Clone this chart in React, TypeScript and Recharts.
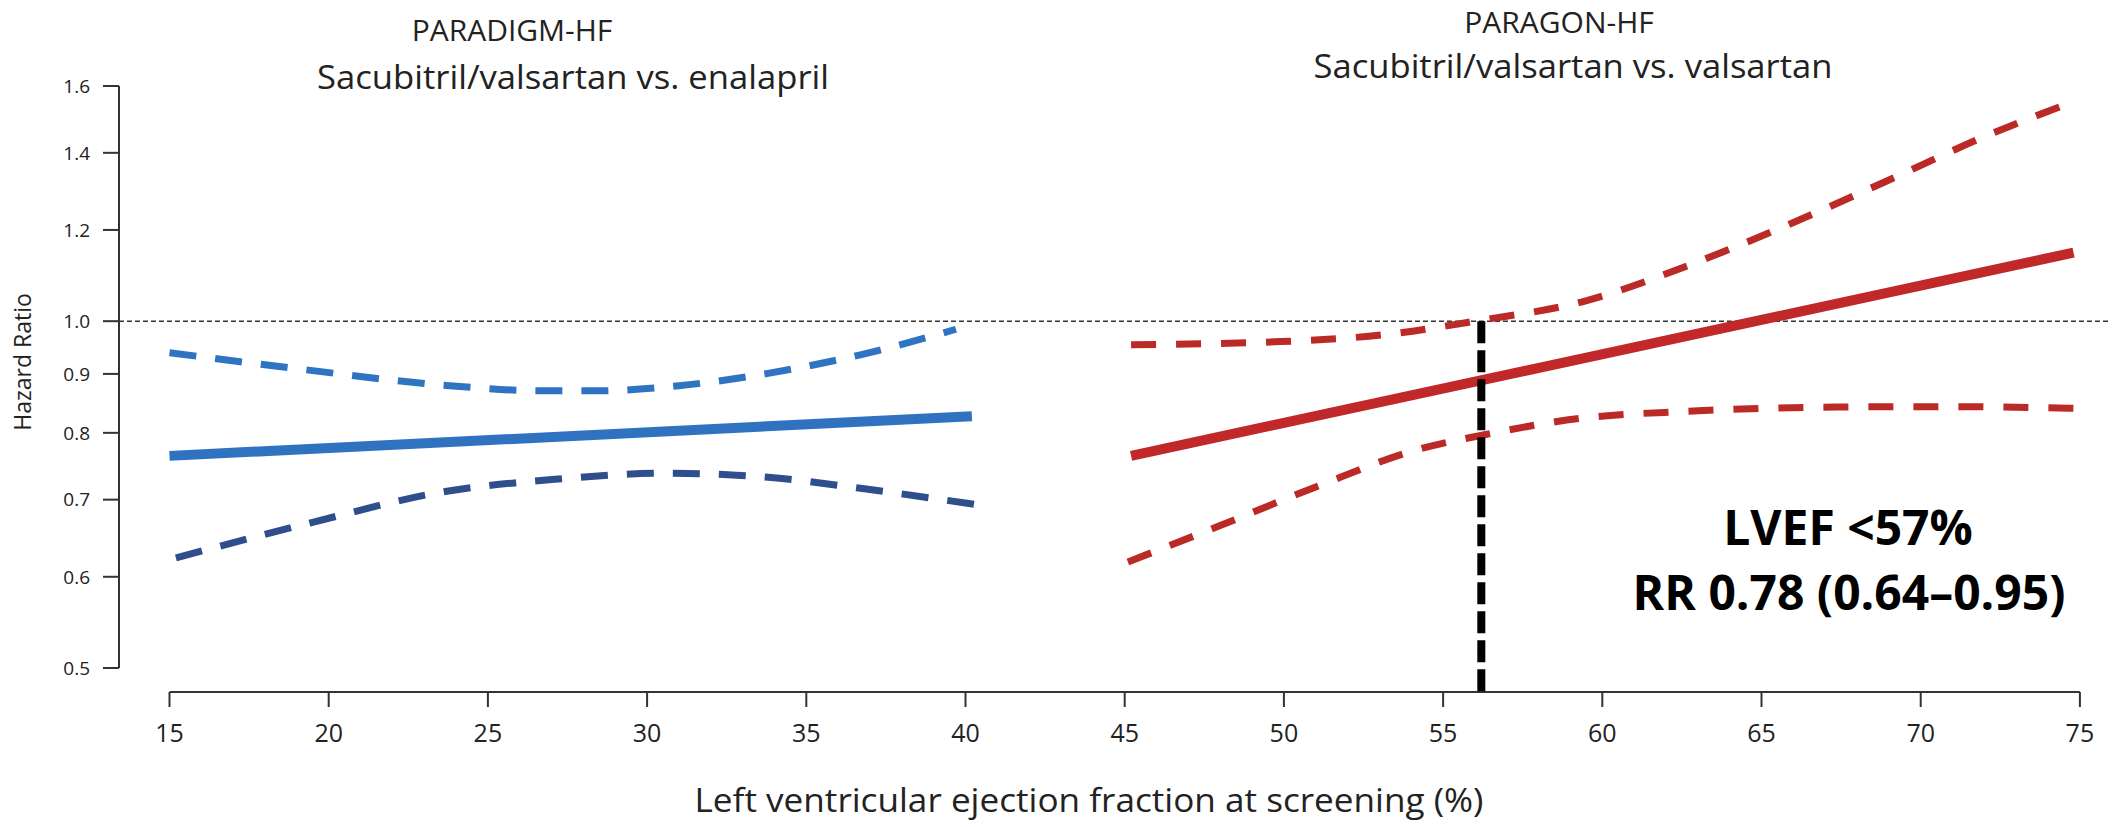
import { LineChart, Line, XAxis, YAxis, ReferenceLine } from 'recharts';

const efTicks = [15, 20, 25, 30, 35, 40, 45, 50, 55, 60, 65, 70, 75];
const hrTicks = [0.5, 0.6, 0.7, 0.8, 0.9, 1.0, 1.2, 1.4, 1.6];

// PARADIGM-HF (blue)
const paradigmEf = [15, 40.2];
const paradigmHr = [0.764, 0.827];
const paradigmUpperEf = [15, 19.2, 23.6, 26.8, 28.4, 31.0, 33.8, 36.7, 39.7];
const paradigmUpperHr = [0.939, 0.908, 0.88, 0.87, 0.87, 0.879, 0.901, 0.935, 0.984];
const paradigmLowerEf = [15.2, 19.4, 23.6, 27.1, 30.6, 33.8, 36.7, 40.8];
const paradigmLowerHr = [0.623, 0.668, 0.711, 0.729, 0.738, 0.732, 0.716, 0.69];

// PARAGON-HF (red)
const paragonEf = [45.2, 74.8];
const paragonHr = [0.764, 1.147];
const paragonUpperEf = [45.2, 49.9, 53.1, 56.1, 59.4, 62.6, 65.7, 68.9, 72.0, 74.8];
const paragonUpperHr = [0.954, 0.96, 0.973, 1.001, 1.04, 1.115, 1.208, 1.322, 1.446, 1.551];
const paragonLowerEf = [45.1, 47.9, 51.0, 54.15, 56.3, 59.4, 62.6, 66.8, 70.9, 74.9];
const paragonLowerHr = [0.618, 0.663, 0.718, 0.773, 0.797, 0.824, 0.835, 0.842, 0.843, 0.84];

const thresholdEf = 56.2;

const xMin = 13.414;
const xMax = 75.945;
const yMin = 0.4766;
const yMax = 1.6;

const font = '"Open Sans", sans-serif';

const zip = (xs: number[], ys: number[]) => xs.map((ef, i) => ({ ef, hr: ys[i] }));

export default function App() {
  const axisStroke = { stroke: '#333', strokeWidth: 2 };
  return (
    <div style={{ position: 'absolute', left: 0, top: 0, width: 2114, height: 827, background: '#fff', fontFamily: font }}>
      <LineChart width={2114} height={827} margin={{ top: 86, right: 4, bottom: 0, left: 0 }}>
        <XAxis
          type="number"
          dataKey="ef"
          domain={[xMin, xMax]}
          ticks={efTicks}
          interval={0}
          axisLine={false}
          tickLine={axisStroke}
          tickSize={15}
          tickMargin={17}
          height={135}
          tick={{ fill: '#222', fontSize: 25, fontFamily: font }}
        />
        <YAxis
          type="number"
          dataKey="hr"
          scale="log"
          domain={[yMin, yMax]}
          ticks={hrTicks}
          interval={0}
          width={119}
          axisLine={false}
          tickLine={axisStroke}
          tickSize={16}
          tickMargin={13}
          tickFormatter={(v: number) => v.toFixed(1)}
          tick={{ fill: '#222', fontSize: 19, fontFamily: font }}
        />
        <ReferenceLine y={1} stroke="#333" strokeWidth={1.5} strokeDasharray="5 3" ifOverflow="visible" />
        <ReferenceLine segment={[{ x: xMin, y: 0.5 }, { x: xMin, y: 1.6 }]} {...axisStroke} ifOverflow="visible" />
        <ReferenceLine segment={[{ x: 15, y: yMin }, { x: 75, y: yMin }]} {...axisStroke} ifOverflow="visible" />

        <Line data={zip(paradigmUpperEf, paradigmUpperHr)} dataKey="hr" type="monotone" stroke="#2f74c2" strokeWidth={7} strokeDasharray="27 19" dot={false} isAnimationActive={false} />
        <Line data={zip(paradigmLowerEf, paradigmLowerHr)} dataKey="hr" type="monotone" stroke="#2e4f8c" strokeWidth={7} strokeDasharray="27 19" dot={false} isAnimationActive={false} />
        <Line data={zip(paradigmEf, paradigmHr)} dataKey="hr" type="linear" stroke="#2e72c0" strokeWidth={10} dot={false} isAnimationActive={false} />

        <Line data={zip(paragonUpperEf, paragonUpperHr)} dataKey="hr" type="monotone" stroke="#bb2a27" strokeWidth={7} strokeDasharray="25 20" dot={false} isAnimationActive={false} />
        <Line data={zip(paragonLowerEf, paragonLowerHr)} dataKey="hr" type="monotone" stroke="#bb2a27" strokeWidth={7} strokeDasharray="25 20" dot={false} isAnimationActive={false} />
        <Line data={zip(paragonEf, paragonHr)} dataKey="hr" type="linear" stroke="#c0282a" strokeWidth={10} dot={false} isAnimationActive={false} />

        <ReferenceLine segment={[{ x: thresholdEf, y: 1 }, { x: thresholdEf, y: yMin }]} stroke="#000" strokeWidth={8} strokeDasharray="22 7" ifOverflow="visible" />
      </LineChart>

      <svg width={2114} height={827} style={{ position: 'absolute', left: 0, top: 0, pointerEvents: 'none' }}>
        <g fontFamily={font} fill="#222" textAnchor="middle">
          <text x={512} y={41} fontSize={30}>PARADIGM-HF</text>
          <text x={573} y={89} fontSize={33} textLength={512} lengthAdjust="spacingAndGlyphs">Sacubitril/valsartan vs. enalapril</text>
          <text x={1559} y={33} fontSize={30}>PARAGON-HF</text>
          <text x={1573} y={78} fontSize={33} textLength={519} lengthAdjust="spacingAndGlyphs">Sacubitril/valsartan vs. valsartan</text>
          <text x={1089} y={812} fontSize={33} textLength={789} lengthAdjust="spacingAndGlyphs">Left ventricular ejection fraction at screening (%)</text>
          <text x={31} y={362} fontSize={23} transform="rotate(-90 31 362)">Hazard Ratio</text>
        </g>
        <g fontFamily={font} fill="#000" fontWeight={700} fontSize={48} textAnchor="middle">
          <text x={1848} y={545}>LVEF &lt;57%</text>
          <text x={1849} y={610}>RR 0.78 (0.64–0.95)</text>
        </g>
      </svg>
    </div>
  );
}
